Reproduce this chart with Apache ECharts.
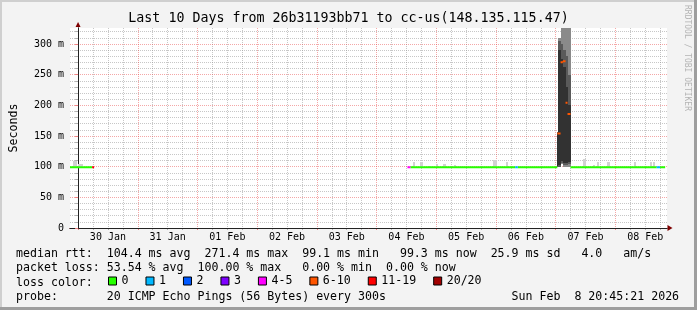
<!DOCTYPE html>
<html><head><meta charset="utf-8">
<script src="https://cdn.jsdelivr.net/npm/echarts@6/dist/echarts.min.js"></script>
<style>html,body{margin:0;padding:0;background:#f3f3f3}#c{width:697px;height:310px}</style>
</head><body><div id="c"></div>
<script>
const titleText = "Last 10 Days from 26b31193bb71 to cc-us(148.135.115.47)";
// x = hours after 30 Jan 00:00 (graph spans 29 Jan 20:45 -> 08 Feb 20:45)
const timeRange = [-3.25, 236.75];
const dayLabelHours = [12, 36, 60, 84, 108, 132, 156, 180, 204, 228];
const dayLabels = ["30 Jan", "31 Jan", "01 Feb", "02 Feb", "03 Feb", "04 Feb", "05 Feb", "06 Feb", "07 Feb", "08 Feb"];
const majorGridHours = [0, 24, 48, 72, 96, 120, 144, 168, 192, 216];
const minorGridHours = [6, 12, 18, 30, 36, 42, 54, 60, 66, 78, 84, 90, 102, 108, 114, 126, 132, 138, 150, 156, 162, 174, 180, 186, 198, 204, 210, 222, 228, 234];
const yRange = [0, 326]; // ms
const yLabelValues = [0, 50, 100, 150, 200, 250, 300];
const yMinorValues = [10, 20, 30, 40, 60, 70, 80, 90, 110, 120, 130, 140, 160, 170, 180, 190, 210, 220, 230, 240, 260, 270, 280, 290, 310, 320];

const lossNames = ["0", "1", "2", "3", "4-5", "6-10", "11-19", "20/20"];
const lossColors = ["#26ff00", "#00b8ff", "#0059ff", "#7e00ff", "#ff00ff", "#ff5500", "#ff0000", "#a10000"];
// median rtt segments per loss class: [start hour, end hour, ms]
const median0 = [[-3.25, 5.65, 99], [133.6, 175.7, 99], [176.8, 192.64, 99], [197.96, 232.6, 99], [233.96, 236.0, 99]];
const median1 = [[175.7, 176.8, 99], [232.6, 233.96, 99]];
const median2 = [];
const median3 = [];
const median45 = [[132.4, 133.6, 99]];
const median610 = [[192.64, 193.96, 154], [193.96, 194.88, 270], [194.88, 195.96, 272], [195.96, 196.76, 204], [196.76, 197.96, 186]];
const median1119 = [[5.65, 6.45, 99]];
const median2020 = [];
const medianByLoss = [median0, median1, median2, median3, median45, median610, median1119, median2020];

// light smoke (ping spread) : [start, end, low ms, high ms]
const smokeLight = [
  [-2.04, -0.44, 99, 110], [-0.04, 1.96, 99, 104],
  [134.6, 135.6, 99, 108], [137.6, 138.6, 99, 107], [140.9, 142.0, 99, 101],
  [144.0, 144.6, 99, 105], [146.6, 148.0, 99, 104], [151.0, 151.9, 99, 102],
  [166.6, 168.6, 99, 111], [172.0, 172.8, 99, 107],
  [202.9, 204.0, 99, 112], [207.2, 208.0, 99, 103], [208.6, 209.4, 99, 107],
  [212.6, 213.8, 99, 107], [223.6, 224.4, 99, 107], [229.8, 230.8, 99, 107], [231.0, 232.0, 99, 108]
];
// dense smoke: [start, end, min, q10, q25, q75, q90, max]
const smokeDense = [
  [192.64, 193.04, 99, 100, 101, 155, 156, 157],
  [193.04, 193.96, 99, 100, 102, 290, 305, 310],
  [193.96, 194.88, 104, 106, 110, 275, 300, 326],
  [194.88, 195.96, 100, 102, 106, 262, 290, 326],
  [195.96, 196.76, 100, 102, 106, 230, 280, 326],
  [196.76, 197.96, 100, 104, 108, 200, 250, 326]
];

const rttLine = "median rtt:  104.4 ms avg  271.4 ms max  99.1 ms min   99.3 ms now  25.9 ms sd   4.0   am/s";
const lossLine = "packet loss: 53.54 % avg  100.00 % max   0.00 % min  0.00 % now";
const lossColorLabel = "loss color:";
const probeLine = "probe:       20 ICMP Echo Pings (56 Bytes) every 300s                  Sun Feb  8 20:45:21 2026";
const creditText = "RRDTOOL / TOBI OETIKER";

const MONO = '"DejaVu Sans Mono", monospace';

function segData(segs) {
  const out = [];
  segs.forEach((s, i) => { if (i) out.push(null); out.push([s[0], s[2]]); out.push([s[1], s[2]]); });
  return out;
}
function rectItem(params, api) {
  const p0 = api.coord([api.value(0), api.value(3)]);
  const p1 = api.coord([api.value(1), api.value(2)]);
  const x0 = Math.round(p0[0]), x1 = Math.round(p1[0]);
  const y0 = Math.round(p0[1]), y1 = Math.round(p1[1]);
  return { type: 'rect', shape: { x: x0, y: y0, width: Math.max(1, x1 - x0), height: y1 - y0 }, style: { fill: api.visual('color') } };
}
function smokeSeries(data, color) {
  return { type: 'custom', renderItem: rectItem, data: data, encode: { x: [0, 1], y: [2, 3] }, itemStyle: { color: color }, z: 2, clip: true, silent: true };
}

const grayGrid = { color: 'rgba(143,143,143,0.5)', width: 1, type: [1, 1] };
const redGrid = { color: 'rgba(230,60,60,0.45)', width: 1, type: [1, 1] };
const xBase = { type: 'value', min: timeRange[0], max: timeRange[1], position: 'bottom' };
const yBase = { type: 'value', min: yRange[0], max: yRange[1], position: 'left' };

const series = [
  smokeSeries(smokeLight, '#d2d2d2'),
  smokeSeries(smokeDense.map(d => [d[0], d[1], d[2], d[7]]), '#8a8a8a'),
  smokeSeries(smokeDense.map(d => [d[0], d[1], d[3], d[6]]), '#5a5a5a'),
  smokeSeries(smokeDense.map(d => [d[0], d[1], d[4], d[5]]), '#323232')
];
lossNames.forEach((n, i) => {
  series.push({ name: n, type: 'line', data: segData(medianByLoss[i]), showSymbol: false, connectNulls: false,
    lineStyle: { width: 2, color: lossColors[i] }, itemStyle: { color: lossColors[i] }, z: 3, silent: true });
});

const chart = echarts.init(document.getElementById('c'), null, { renderer: 'canvas' });
chart.setOption({
  animation: false,
  backgroundColor: '#f3f3f3',
  title: { text: titleText, left: 'center', top: 12, padding: 0,
    textStyle: { fontFamily: MONO, fontSize: 13.3, fontWeight: 'normal', color: '#000' } },
  grid: { left: 67, top: 28, width: 600, height: 200, show: true, backgroundColor: '#ffffff', borderWidth: 0 },
  xAxis: [
    Object.assign({}, xBase, { z: 0,
      axisLine: { show: true, lineStyle: { color: '#7f0000' }, symbol: ['none', 'triangle'], symbolSize: [6, 5], symbolOffset: [0, 3] },
      axisTick: { show: true, customValues: minorGridHours, length: 2, lineStyle: { color: '#b0b0b0' } },
      axisLabel: { show: false }, splitLine: { show: true, lineStyle: grayGrid } }),
    Object.assign({}, xBase, { z: 0, axisLine: { show: false },
      axisTick: { show: true, customValues: majorGridHours, length: 2, lineStyle: { color: '#f08080' } },
      axisLabel: { show: false }, splitLine: { show: true, lineStyle: redGrid } }),
    Object.assign({}, xBase, { z: 1, axisLine: { show: true, lineStyle: { color: '#222' } }, axisTick: { show: false },
      splitLine: { show: false },
      axisLabel: { show: true, customValues: dayLabelHours, formatter: v => dayLabels[dayLabelHours.indexOf(v)],
        fontFamily: MONO, fontSize: 10, color: '#000', margin: 4 } })
  ],
  yAxis: [
    Object.assign({}, yBase, { z: 0,
      axisLine: { show: true, lineStyle: { color: '#7f0000' }, symbol: ['none', 'triangle'], symbolSize: [5, 5], symbolOffset: [0, 3.5] },
      axisTick: { show: true, customValues: yMinorValues, length: 3, lineStyle: { color: '#b0b0b0' } },
      axisLabel: { show: false }, splitLine: { show: true, lineStyle: grayGrid } }),
    Object.assign({}, yBase, { z: 1,
      axisLine: { show: true, lineStyle: { color: '#222' } },
      axisTick: { show: true, customValues: yLabelValues, length: 3, lineStyle: { color: '#f08080' } },
      axisLabel: { show: true, customValues: yLabelValues, formatter: v => v === 0 ? '0' : v + ' m',
        fontFamily: MONO, fontSize: 10, color: '#000', margin: 6 },
      splitLine: { show: true, lineStyle: redGrid },
      name: 'Seconds', nameLocation: 'middle', nameRotate: 90, nameGap: 50,
      nameTextStyle: { fontFamily: MONO, fontSize: 11.6, color: '#000' } })
  ],
  legend: { left: 108, top: 275, itemWidth: 8, itemHeight: 8, itemGap: 17, icon: 'rect', selectedMode: false,
    data: lossNames, padding: 0,
    itemStyle: { borderColor: '#000', borderWidth: 1 },
    textStyle: { fontFamily: MONO, fontSize: 11.6, color: '#000' } },
  series: series,
  graphic: [
    { type: 'rect', shape: { x: 0, y: 0, width: 697, height: 2 }, style: { fill: '#cfcfcf' }, silent: true },
    { type: 'rect', shape: { x: 0, y: 0, width: 2, height: 310 }, style: { fill: '#cfcfcf' }, silent: true },
    { type: 'rect', shape: { x: 0, y: 307, width: 697, height: 3 }, style: { fill: '#9e9e9e' }, silent: true },
    { type: 'rect', shape: { x: 694, y: 0, width: 3, height: 310 }, style: { fill: '#9e9e9e' }, silent: true },
    { type: 'text', x: 16, y: 254, style: { text: rttLine, font: '11.6px ' + MONO, fill: '#000', verticalAlign: 'middle' }, silent: true },
    { type: 'text', x: 16, y: 268.3, style: { text: lossLine, font: '11.6px ' + MONO, fill: '#000', verticalAlign: 'middle' }, silent: true },
    { type: 'text', x: 16, y: 282.6, style: { text: lossColorLabel, font: '11.6px ' + MONO, fill: '#000', verticalAlign: 'middle' }, silent: true },
    { type: 'text', x: 16, y: 296.5, style: { text: probeLine, font: '11.6px ' + MONO, fill: '#000', verticalAlign: 'middle' }, silent: true },
    { type: 'text', x: 687, y: 5, rotation: -Math.PI / 2, style: { text: creditText, font: '8px ' + MONO, fill: '#b4b4b4', verticalAlign: 'middle' }, silent: true }
  ]
});
</script></body></html>
